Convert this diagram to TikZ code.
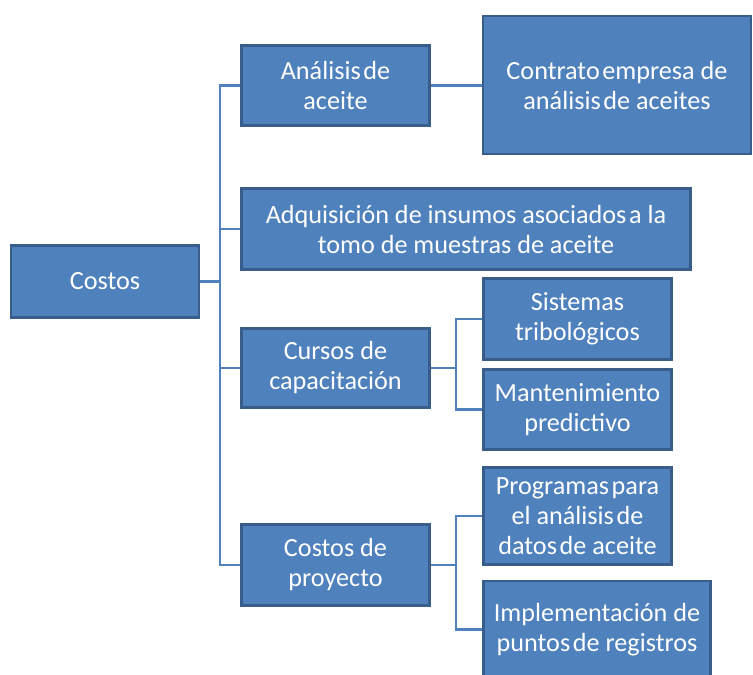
\documentclass[tikz,border=0pt]{standalone}
\usepackage{fontspec}
\setmainfont{Carlito}
\newcommand\tsp{\hspace{0.1em}}
\definecolor{boxfill}{HTML}{4F81BD}
\definecolor{boxline}{HTML}{385D8A}
\definecolor{conn}{HTML}{4F81BD}
\begin{document}
\begin{tikzpicture}[x=1pt,y=-1pt,
  box/.style={draw=boxline,line width=2.5pt,fill=boxfill,text=white,inner sep=0pt,align=center,
    font=\fontsize{26.2}{30}\selectfont},
  link/.style={draw=conn,line width=2.5pt}]
\useasboundingbox[fill=white] (0,0) rectangle (753,675);
\node[box,minimum width=188pt,minimum height=72pt] (costos) at (105,281.5) {Costos};
\node[box,minimum width=188pt,minimum height=80pt] (analisis) at (335.5,85.5) {Análisis\tsp de\\aceite};
\node[box,minimum width=268pt,minimum height=138pt] (contrato) at (617,85) {Contrato\tsp empresa de\\análisis\tsp de aceites};
\node[box,minimum width=449pt,minimum height=81pt] (adq) at (466,229) {Adquisición de insumos asociados\tsp a la\\tomo de muestras de aceite};
\node[box,minimum width=188pt,minimum height=79pt] (cursos) at (335.5,368) {Cursos de\\capacitación};
\node[box,minimum width=188pt,minimum height=81pt] (proy) at (335.5,565) {Costos de\\proyecto};
\node[box,minimum width=188pt,minimum height=81pt] (sist) at (577.5,319) {Sistemas\\tribológicos};
\node[box,minimum width=188pt,minimum height=80pt] (mant) at (577.5,409.5) {Mantenimiento\\predictivo};
\node[box,minimum width=188pt,minimum height=97pt] (prog) at (577.5,516) {Programas\tsp para\\el análisis\tsp de\\datos\tsp de aceite};
\node[box,minimum width=227pt,minimum height=97pt] (impl) at (597,629.5) {Implementación de\\puntos\tsp de registros};
\coordinate (j1) at (220,281.5);
\coordinate (j2) at (456,368);
\coordinate (j3) at (456,565);
\draw[link] (costos.east) -- (j1);
\draw[link] (j1) |- (analisis.west);
\draw[link] (j1) |- (adq.west);
\draw[link] (j1) |- (cursos.west);
\draw[link] (j1) |- (proy.west);
\draw[link] (analisis.east) -- (analisis.east -| contrato.west);
\draw[link] (cursos.east) -- (j2);
\draw[link] (j2) |- (sist.west);
\draw[link] (j2) |- (mant.west);
\draw[link] (proy.east) -- (j3);
\draw[link] (j3) |- (prog.west);
\draw[link] (j3) |- (impl.west);
\end{tikzpicture}
\end{document}
